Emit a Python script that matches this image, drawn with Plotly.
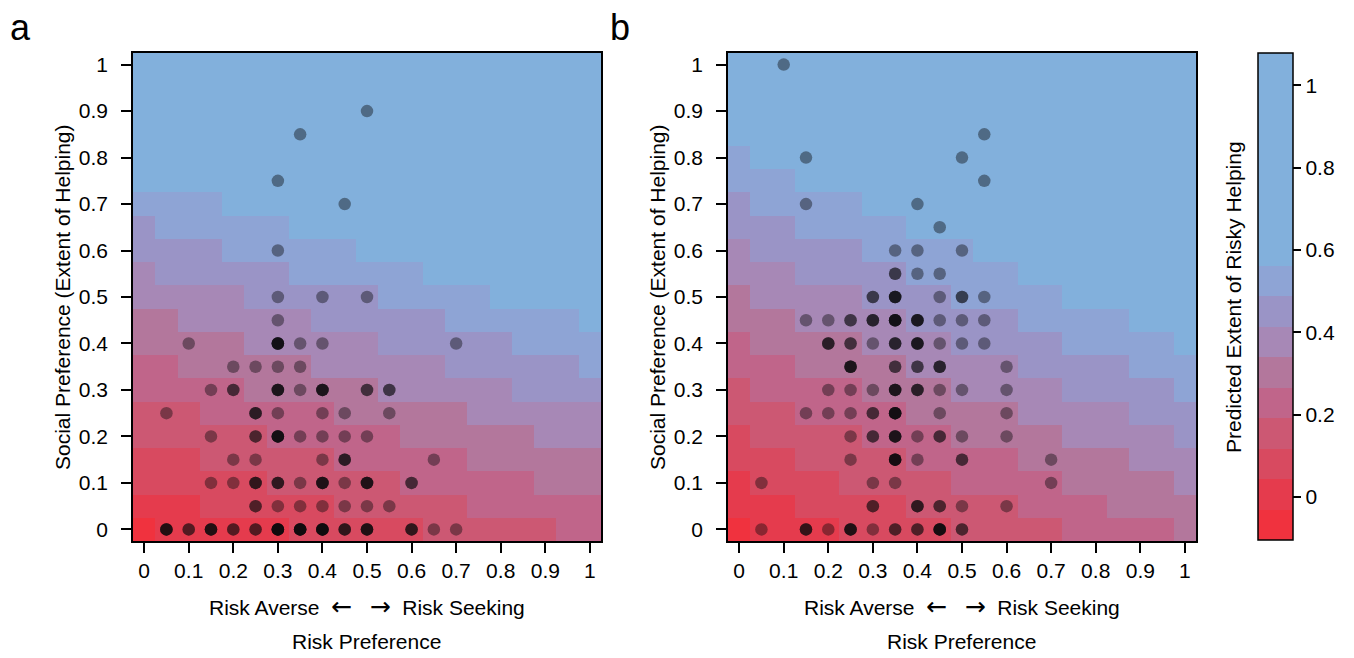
import numpy as np
import plotly.graph_objects as go

# ---------------- data ----------------
grid_vals = [round(0.05 * i, 2) for i in range(21)]          # cell centres (x and y)
tick_vals = [round(0.1 * i, 1) for i in range(11)]
tick_text = ["0", "0.1", "0.2", "0.3", "0.4", "0.5", "0.6", "0.7", "0.8", "0.9", "1"]
cbar_ticks = [0, 0.2, 0.4, 0.6, 0.8, 1]
cbar_text = ["0", "0.2", "0.4", "0.6", "0.8", "1"]

# colour-band index of every cell (row 0 = social preference 0, bottom)
bands_a = [
    "011111122222233333344",
    "111222222333333444444",
    "222222333333444444555",
    "222333333444444555555",
    "333333444444555555666",
    "333444444555555666666",
    "444445555556666667777",
    "445555556666667777778",
    "555556666667777778888",
    "556666667777778888889",
    "666667777778888899999",
    "677777788888899999999",
    "777788888899999999999",
    "788888899999999999999",
    "888899999999999999999",
    "999999999999999999999",
    "999999999999999999999",
    "999999999999999999999",
    "999999999999999999999",
    "999999999999999999999",
    "999999999999999999999",
]
bands_b = [
    "011112222233333444445",
    "111222223333344445555",
    "122223333344444555556",
    "222333334444455555666",
    "233333444455555666667",
    "333444445555566666777",
    "344444555566666777778",
    "444555556666677777888",
    "455555666677777888889",
    "555666667777788888999",
    "566666777788888999999",
    "666777778888899999999",
    "677777888889999999999",
    "777888889999999999999",
    "788888999999999999999",
    "888999999999999999999",
    "899999999999999999999",
    "999999999999999999999",
    "999999999999999999999",
    "999999999999999999999",
    "999999999999999999999",
]
band_values = [-0.068, 0.006, 0.080, 0.154, 0.228, 0.302, 0.376, 0.450, 0.524, 0.820]
level_edges = [-0.105, -0.031, 0.043, 0.117, 0.191, 0.265, 0.339, 0.413, 0.487, 0.561, 1.079]
band_colors = ["#F0323E", "#E53B4D", "#D84A60", "#CC5873", "#C0658A",
               "#B3779C", "#A788B6", "#9A94C6", "#8EA4D5", "#82B0DC"]

# respondents: risk preference, social preference, number of overlapping respondents
a_x = [0.5, 0.35, 0.3, 0.45, 0.3, 0.3, 0.4, 0.5, 0.3,
       0.1, 0.3, 0.35, 0.4, 0.7,
       0.2, 0.25, 0.3, 0.35,
       0.15, 0.2, 0.3, 0.35, 0.4, 0.5, 0.55,
       0.05, 0.25, 0.3, 0.4, 0.45, 0.55,
       0.15, 0.25, 0.3, 0.35, 0.4, 0.45, 0.5,
       0.2, 0.25, 0.4, 0.45, 0.65,
       0.15, 0.2, 0.25, 0.3, 0.35, 0.4, 0.45, 0.5, 0.6,
       0.25, 0.3, 0.35, 0.4, 0.45, 0.5, 0.55,
       0.05, 0.1, 0.15, 0.2, 0.25, 0.3, 0.35, 0.4, 0.45, 0.5, 0.6, 0.65, 0.7]
a_y = [0.9, 0.85, 0.75, 0.7, 0.6, 0.5, 0.5, 0.5, 0.45,
       0.4, 0.4, 0.4, 0.4, 0.4,
       0.35, 0.35, 0.35, 0.35,
       0.3, 0.3, 0.3, 0.3, 0.3, 0.3, 0.3,
       0.25, 0.25, 0.25, 0.25, 0.25, 0.25,
       0.2, 0.2, 0.2, 0.2, 0.2, 0.2, 0.2,
       0.15, 0.15, 0.15, 0.15, 0.15,
       0.1, 0.1, 0.1, 0.1, 0.1, 0.1, 0.1, 0.1, 0.1,
       0.05, 0.05, 0.05, 0.05, 0.05, 0.05, 0.05,
       0, 0, 0, 0, 0, 0, 0, 0, 0, 0, 0, 0, 0]
a_n = [1, 1, 1, 1, 1, 1, 1, 1, 1,
       1, 5, 1, 1, 1,
       1, 1, 1, 1,
       1, 2, 4, 1, 4, 2, 2,
       1, 3, 1, 1, 1, 1,
       1, 2, 5, 1, 1, 1, 1,
       1, 1, 1, 3, 1,
       1, 1, 3, 3, 1, 4, 1, 4, 2,
       2, 1, 1, 1, 1, 1, 1,
       4, 2, 4, 2, 2, 6, 6, 6, 3, 4, 3, 1, 1]

b_x = [0.1, 0.55, 0.15, 0.5, 0.55, 0.15, 0.4, 0.45,
       0.35, 0.4, 0.5,
       0.35, 0.4, 0.45,
       0.3, 0.35, 0.45, 0.5, 0.55,
       0.15, 0.2, 0.25, 0.3, 0.35, 0.4, 0.45, 0.5, 0.55,
       0.2, 0.25, 0.3, 0.35, 0.4, 0.45, 0.5, 0.55,
       0.25, 0.35, 0.4, 0.45, 0.6,
       0.2, 0.25, 0.3, 0.35, 0.4, 0.45, 0.5, 0.6,
       0.15, 0.2, 0.25, 0.3, 0.35, 0.45, 0.6,
       0.25, 0.3, 0.35, 0.4, 0.45, 0.5, 0.6,
       0.25, 0.35, 0.4, 0.5, 0.7,
       0.05, 0.3, 0.35, 0.7,
       0.3, 0.4, 0.45, 0.5, 0.6,
       0.05, 0.15, 0.2, 0.25, 0.3, 0.35, 0.4, 0.45, 0.5]
b_y = [1.0, 0.85, 0.8, 0.8, 0.75, 0.7, 0.7, 0.65,
       0.6, 0.6, 0.6,
       0.55, 0.55, 0.55,
       0.5, 0.5, 0.5, 0.5, 0.5,
       0.45, 0.45, 0.45, 0.45, 0.45, 0.45, 0.45, 0.45, 0.45,
       0.4, 0.4, 0.4, 0.4, 0.4, 0.4, 0.4, 0.4,
       0.35, 0.35, 0.35, 0.35, 0.35,
       0.3, 0.3, 0.3, 0.3, 0.3, 0.3, 0.3, 0.3,
       0.25, 0.25, 0.25, 0.25, 0.25, 0.25, 0.25,
       0.2, 0.2, 0.2, 0.2, 0.2, 0.2, 0.2,
       0.15, 0.15, 0.15, 0.15, 0.15,
       0.1, 0.1, 0.1, 0.1,
       0.05, 0.05, 0.05, 0.05, 0.05,
       0, 0, 0, 0, 0, 0, 0, 0, 0]
b_n = [1, 1, 1, 1, 1, 1, 1, 1,
       1, 1, 1,
       2, 1, 1,
       2, 4, 1, 2, 1,
       1, 1, 2, 3, 5, 4, 1, 1, 1,
       3, 2, 1, 3, 4, 1, 1, 1,
       4, 2, 2, 3, 1,
       1, 1, 1, 4, 3, 1, 1, 1,
       1, 1, 1, 2, 5, 1, 1,
       1, 2, 4, 1, 2, 1, 1,
       1, 5, 1, 2, 1,
       1, 1, 1, 1,
       2, 3, 2, 1, 1,
       1, 3, 1, 4, 1, 2, 2, 5, 2]

# ---------------- figure ----------------
W, H = 1354, 658
FONT = "Liberation Sans, Arial, Helvetica, sans-serif"
zmin, zmax = level_edges[0], level_edges[-1]


def frac(v):
    return (v - zmin) / (zmax - zmin)


colorscale = []
for k, col in enumerate(band_colors):
    colorscale.append([frac(level_edges[k]), col])
    colorscale.append([frac(level_edges[k + 1]), col])
colorscale[0][0] = 0.0
colorscale[-1][0] = 1.0


def zgrid(bands):
    return [[band_values[int(ch)] for ch in row] for row in bands]


fig = go.Figure()

fig.add_trace(go.Heatmap(x=grid_vals, y=grid_vals, z=zgrid(bands_a), colorscale=colorscale,
                         zmin=zmin, zmax=zmax, showscale=False, xaxis="x", yaxis="y",
                         hoverinfo="skip"))
fig.add_trace(go.Heatmap(
    x=grid_vals, y=grid_vals, z=zgrid(bands_b), colorscale=colorscale,
    zmin=zmin, zmax=zmax, xaxis="x2", yaxis="y2", hoverinfo="skip",
    colorbar=dict(x=1258 / W, xanchor="left", y=1 - 296.5 / H, yanchor="middle",
                  len=487, lenmode="pixels", thickness=35, thicknessmode="pixels",
                  xpad=0, ypad=0, outlinewidth=1.5, outlinecolor="black",
                  tickvals=cbar_ticks, ticktext=cbar_text, ticks="outside",
                  ticklen=8, tickwidth=1.5, tickcolor="black",
                  tickfont=dict(size=21, color="black", family=FONT))))

dot_color = "rgba(10,10,12,0.42)"
for xs, ys, ns, xa, ya in [(a_x, a_y, a_n, "x", "y"), (b_x, b_y, b_n, "x2", "y2")]:
    fig.add_trace(go.Scatter(x=np.repeat(xs, ns), y=np.repeat(ys, ns), mode="markers",
                             marker=dict(size=12.5, color=dot_color, line=dict(width=0)),
                             xaxis=xa, yaxis=ya, showlegend=False, hoverinfo="skip"))

axis_common = dict(range=[-0.025, 1.025], showgrid=False, zeroline=False, showline=True,
                   mirror=True, linecolor="black", linewidth=1.5, ticks="outside",
                   ticklen=10, tickwidth=1.5, tickcolor="black", tickvals=tick_vals,
                   ticktext=tick_text, tickfont=dict(size=21, color="black", family=FONT))
ydom = [1 - 541 / H, 1 - 53 / H]
fig.update_layout(
    width=W, height=H, margin=dict(l=0, r=0, t=0, b=0),
    paper_bgcolor="white", plot_bgcolor="white", showlegend=False,
    font=dict(family=FONT, size=21, color="black"),
    xaxis=dict(domain=[133 / W, 601 / W], anchor="y", ticklabelstandoff=0, **axis_common),
    yaxis=dict(domain=ydom, anchor="x", ticklabelstandoff=9, **axis_common),
    xaxis2=dict(domain=[728 / W, 1196 / W], anchor="y2", ticklabelstandoff=0, **axis_common),
    yaxis2=dict(domain=ydom, anchor="x2", ticklabelstandoff=9, **axis_common),
)

nb = "\u00a0"
arrow_l = '<span style="font-family:DejaVu Sans;font-size:25px">\u2190</span>'
arrow_r = '<span style="font-family:DejaVu Sans;font-size:25px">\u2192</span>'
xlab = "Risk Averse" + nb * 2 + arrow_l + nb * 3 + arrow_r + nb * 2 + "Risk Seeking"
ann = []
for cx, ylx in [(367, 62), (962, 657)]:
    ann.append(dict(x=cx / W, y=1 - 606 / H, text=xlab, showarrow=False,
                    xref="paper", yref="paper", xanchor="center", yanchor="middle"))
    ann.append(dict(x=cx / W, y=1 - 641 / H, text="Risk Preference", showarrow=False,
                    xref="paper", yref="paper", xanchor="center", yanchor="middle"))
    ann.append(dict(x=ylx / W, y=1 - 297 / H, text="Social Preference (Extent of Helping)",
                    textangle=-90, showarrow=False, xref="paper", yref="paper",
                    xanchor="center", yanchor="middle"))
ann.append(dict(x=20 / W, y=1 - 27 / H, text="a", font=dict(size=36), showarrow=False,
                xref="paper", yref="paper", xanchor="center", yanchor="middle"))
ann.append(dict(x=620 / W, y=1 - 27 / H, text="b", font=dict(size=36), showarrow=False,
                xref="paper", yref="paper", xanchor="center", yanchor="middle"))
ann.append(dict(x=1233 / W, y=1 - 297 / H, text="Predicted Extent of Risky Helping",
                textangle=-90, showarrow=False, xref="paper", yref="paper",
                xanchor="center", yanchor="middle"))
fig.update_layout(annotations=ann)

fig.write_html("out.html", config={"displayModeBar": False},
               post_script="document.body.style.margin='0px';document.body.style.overflow='hidden';")
